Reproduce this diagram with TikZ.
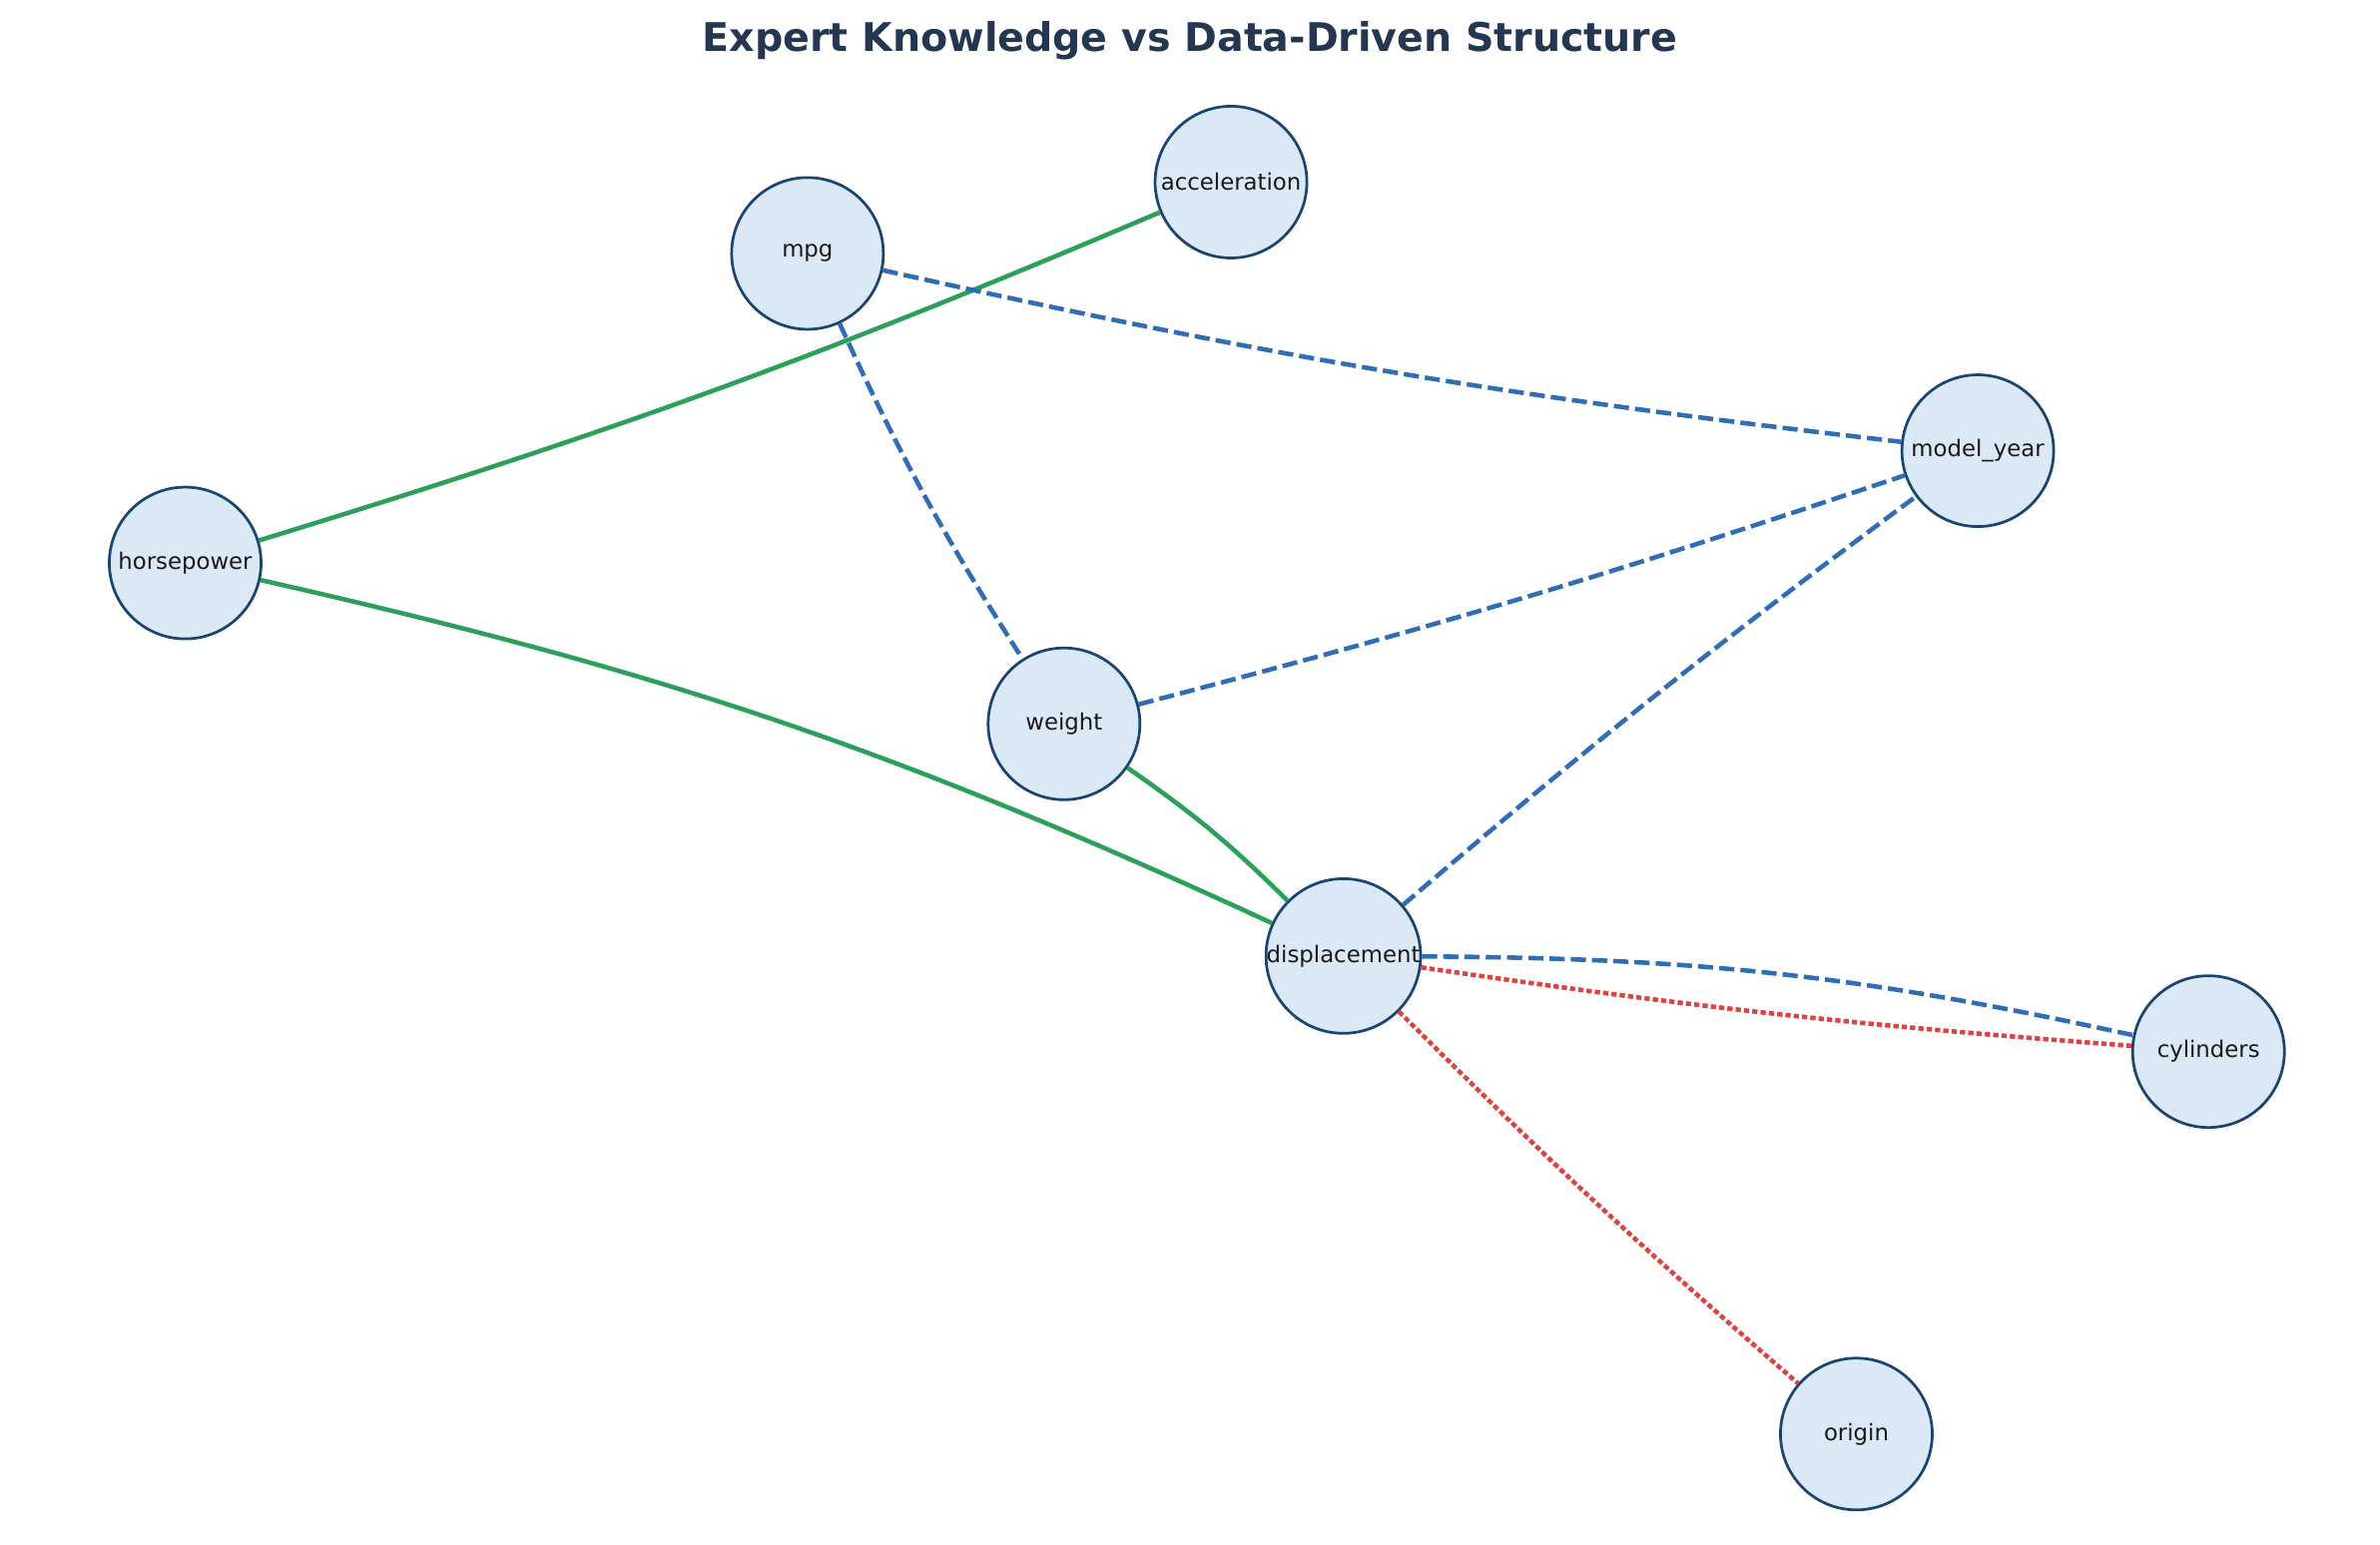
\documentclass[tikz,border=0pt]{standalone}
\usepackage{fontspec}
\setmainfont{DejaVu Sans}
\begin{document}
\begin{tikzpicture}[x=1pt,y=-1pt,
 nd/.style={circle,draw=ndb,fill=ndf,line width=1.8pt,minimum size=100pt,inner sep=0pt,font=\fontsize{15}{17}\selectfont,text=black!90},
 gr/.style={draw=grn,line width=3pt},
 bl/.style={draw=blu,line width=3pt,dash pattern=on 10pt off 4pt},
 rd/.style={draw=red1,line width=3pt,dash pattern=on 3.5pt off 2pt}]
\definecolor{ndb}{HTML}{1B4570}\definecolor{ndf}{HTML}{DBE9F7}
\definecolor{grn}{HTML}{2CA05A}\definecolor{blu}{HTML}{2F6DB5}\definecolor{red1}{HTML}{DC4444}
\definecolor{ttl}{HTML}{253750}
\useasboundingbox (0,0) rectangle (1568,1018);
\node[font=\bfseries\fontsize{26}{30}\selectfont,text=ttl] (title) at (784,27) {Expert Knowledge vs Data-Driven Structure};
\node[nd] (acc) at (811,120) {acceleration};
\node[nd] (mpg) at (532,167) {mpg};
\node[nd] (my) at (1303,297) {model\_year};
\node[nd] (hp) at (122,371) {horsepower};
\node[nd] (w) at (701,477) {weight};
\node[nd] (d) at (885,630) {displacement};
\node[nd] (cy) at (1455,693) {cylinders};
\node[nd] (o) at (1223,945) {origin};
\draw[gr] (hp) to[bend right=3] (acc);
\draw[gr] (hp) to[bend left=6] (d);
\draw[gr] (w) to[bend left=5] (d);
\draw[bl] (mpg) to[bend right=4] (w);
\draw[bl] (mpg) to[bend right=3] (my);
\draw[bl] (w) to[bend right=2] (my);
\draw[bl] (d) to[bend left=2] (my);
\draw[bl] (d) to[bend left=6] (cy);
\draw[rd] (d) to[bend right=2] (cy);
\draw[rd] (d) to[bend right=2] (o);
\end{tikzpicture}
\end{document}
